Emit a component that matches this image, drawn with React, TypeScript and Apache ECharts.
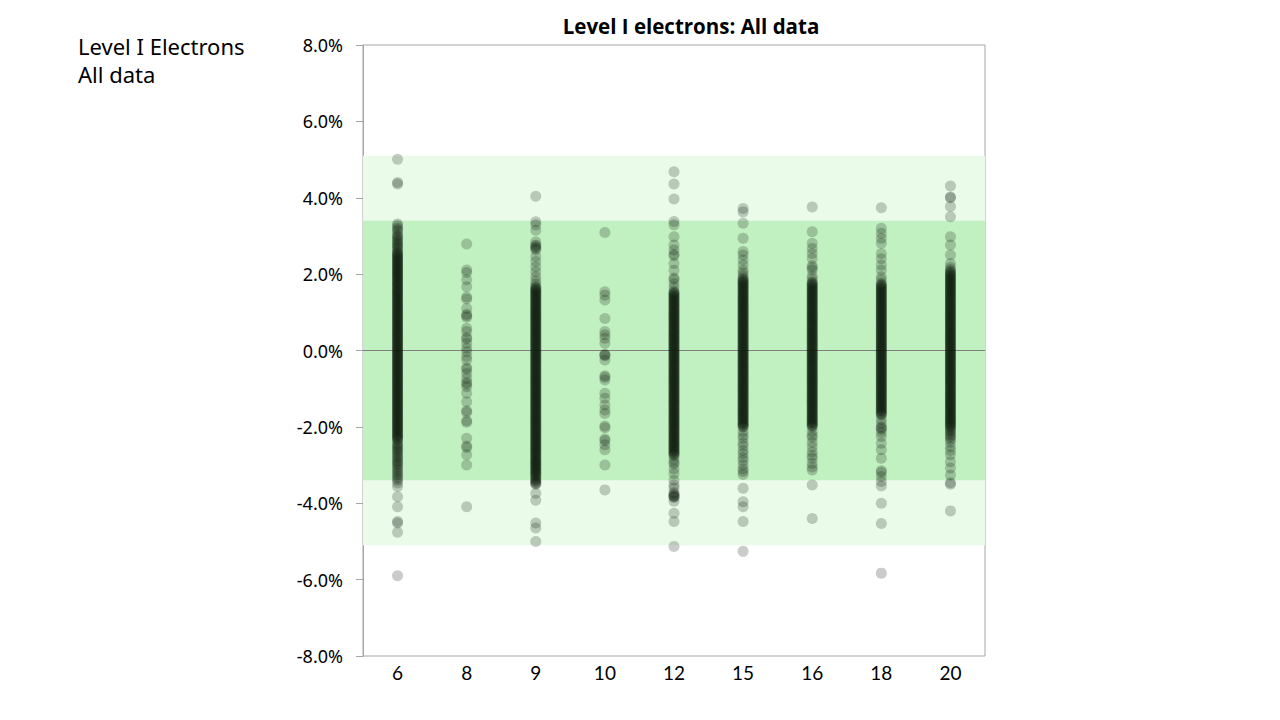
import React, { useEffect, useRef } from "react";
import * as echarts from "echarts";

const categories = ["6", "8", "9", "10", "12", "15", "16", "18", "20"];
const yTicks = { min: -8, max: 8, interval: 2 };
const outerBand = [-5.1, 5.1];
const innerBand = [-3.4, 3.4];

const c6 = [
  5.01, 4.36, 4.4, 3.31, 3.21, 3.12, 3.04, 2.97, 2.88, 2.8, 2.73, 2.66,
  3.0, 2.92, 2.85, 2.76, 2.69, 3.27, 3.16,
  2.6, 2.54, 2.49, 2.45, 2.39, 2.35, 2.29, 2.24, 2.2, 2.14, 2.1, 2.04, 2.0, 1.95, 1.91, 1.85, 1.8, 1.76, 1.7, 1.66,
  1.6, 1.55, 1.51, 1.45, 1.4, 1.36, 1.3, 1.25, 1.21, 1.15, 1.1, 1.06, 1.0, 0.95, 0.91, 0.85, 0.8, 0.76, 0.7, 0.65,
  0.61, 0.55, 0.5, 0.46, 0.4, 0.35, 0.31, 0.25, 0.2, 0.16, 0.1, 0.05, 0.01, -0.05, -0.1, -0.14, -0.2, -0.25, -0.29,
  -0.35, -0.4, -0.44, -0.5, -0.55, -0.59, -0.65, -0.7, -0.74, -0.8, -0.85, -0.89, -0.95, -1.0, -1.04, -1.1, -1.15,
  -1.19, -1.25, -1.3, -1.34, -1.4, -1.45, -1.49, -1.55, -1.6, -1.64, -1.7, -1.75, -1.79, -1.85, -1.9, -1.94, -2.0,
  -2.05, -2.09, -2.15, -2.2, -2.24, -2.3, -2.35, -2.42, -2.5, -2.58, -2.66, -2.75, -2.83, -2.92, -3.0, -3.1, -3.2,
  -3.3, -3.4, -3.47, -3.56, -3.83, -4.09, -4.48, -4.52, -4.76, -5.9,
  -2.46, -2.54, -2.62, -2.7, -2.79, -2.88, -2.96, -3.05, -3.15, -3.25, -3.35,
  2.57, 2.52, 2.47, 2.42, 2.37, 2.32, 2.27, 2.22, 2.17, 2.12, 2.07, 2.02, 1.97, 1.92, 1.87, 1.82, 1.77, 1.72,
  1.67, 1.62, 1.57, 1.52, 1.47, 1.42, 1.37, 1.32, 1.27, 1.22, 1.17, 1.12, 1.07, 1.02, 0.97, 0.92, 0.87, 0.82,
  0.77, 0.72, 0.67, 0.62, 0.57, 0.52, 0.47, 0.42, 0.37, 0.32, 0.27, 0.22, 0.17, 0.12, 0.07, 0.02, -0.03, -0.08,
  -0.13, -0.18, -0.23, -0.28, -0.33, -0.38, -0.43, -0.48, -0.53, -0.58, -0.63, -0.68, -0.73, -0.78, -0.83, -0.88,
  -0.93, -0.98, -1.03, -1.08, -1.13, -1.18, -1.23, -1.28, -1.33, -1.38, -1.43, -1.48, -1.53, -1.58, -1.63, -1.68,
  -1.73, -1.78, -1.83, -1.88, -1.93, -1.98, -2.03, -2.08, -2.13, -2.18, -2.23, -2.28, -2.33,
];
const c8 = [
  2.79, 2.11, 2.04, 1.85, 1.67, 1.4, 1.35, 1.1, 0.95, 0.91, 0.87, 0.58, 0.5, 0.34, 0.3, 0.19, 0.06, -0.03, -0.16,
  -0.25, -0.45, -0.49, -0.6, -0.73, -0.84, -0.88, -0.95, -1.12, -1.34, -1.58, -1.62, -1.84, -1.88, -2.3, -2.5,
  -2.54, -2.73, -3.0, -4.09,
];
const c9 = [
  4.04, 3.37, 3.29, 3.15, 2.85, 2.74, 2.7, 2.63, 2.46, 2.33, 2.19, 2.06, 1.93, 1.82, 1.74,
  1.67, 1.62, 1.57, 1.52, 1.47, 1.42, 1.37, 1.32, 1.27, 1.22, 1.17, 1.12, 1.07, 1.02, 0.97, 0.92, 0.87, 0.82,
  0.77, 0.72, 0.67, 0.62, 0.57, 0.52, 0.47, 0.42, 0.37, 0.32, 0.27, 0.22, 0.17, 0.12, 0.07, 0.02, -0.03, -0.08,
  -0.13, -0.18, -0.23, -0.28, -0.33, -0.38, -0.43, -0.48, -0.53, -0.58, -0.63, -0.68, -0.73, -0.78, -0.83, -0.88,
  -0.93, -0.98, -1.03, -1.08, -1.13, -1.18, -1.23, -1.28, -1.33, -1.38, -1.43, -1.48, -1.53, -1.58, -1.63, -1.68,
  -1.73, -1.78, -1.83, -1.88, -1.93, -1.98, -2.03, -2.08, -2.13, -2.18, -2.23, -2.28, -2.33, -2.38, -2.43, -2.48,
  -2.53, -2.58, -2.63, -2.68, -2.73, -2.78, -2.83, -2.88, -2.95, -3.02, -3.1, -3.18, -3.25, -3.3, -3.4, -3.46,
  -3.5, -3.74, -3.92, -4.52, -4.65, -5.0,
  -2.9, -2.98, -3.05, -3.12, -3.2, -3.28, -3.38, -3.48, 2.76, 2.68,
  1.65, 1.6, 1.55, 1.5, 1.45, 1.4, 1.35, 1.3, 1.25, 1.2, 1.15, 1.1, 1.05, 1.0, 0.95, 0.9, 0.85, 0.8, 0.75, 0.7,
  0.65, 0.6, 0.55, 0.5, 0.45, 0.4, 0.35, 0.3, 0.25, 0.2, 0.15, 0.1, 0.05, 0.0, -0.05, -0.1, -0.15, -0.2, -0.25,
  -0.3, -0.35, -0.4, -0.45, -0.5, -0.55, -0.6, -0.65, -0.7, -0.75, -0.8, -0.85, -0.9, -0.95, -1.0, -1.05, -1.1,
  -1.15, -1.2, -1.25, -1.3, -1.35, -1.4, -1.45, -1.5, -1.55, -1.6, -1.65, -1.7, -1.75, -1.8, -1.85, -1.9, -1.95,
  -2.0, -2.05, -2.1, -2.15, -2.2, -2.25, -2.3, -2.35, -2.4, -2.45, -2.5, -2.55, -2.6, -2.65, -2.7, -2.75, -2.8,
  -2.86, -2.92, -3.0, -3.08, -3.15, -3.22, -3.35, -3.44,
];
const c10 = [
  3.09, 1.54, 1.45, 1.32, 0.84, 0.5, 0.41, 0.32, 0.19, -0.1, -0.12, -0.14, -0.25, -0.66, -0.7, -0.77, -1.12,
  -1.25, -1.43, -1.56, -1.65, -1.98, -2.02, -2.32, -2.36, -2.47, -2.6, -3.0, -3.65,
];
const c12 = [
  4.68, 4.36, 3.97, 3.38, 3.29, 2.98, 2.76, 2.63, 2.52, 2.48, 2.28, 2.1, 1.9, 1.86, 1.75, 1.65,
  1.55, 1.5, 1.45, 1.4, 1.35, 1.3, 1.25, 1.2, 1.15, 1.1, 1.05, 1.0, 0.95, 0.9, 0.85, 0.8, 0.75, 0.7, 0.65, 0.6,
  0.55, 0.5, 0.45, 0.4, 0.35, 0.3, 0.25, 0.2, 0.15, 0.1, 0.05, 0.0, -0.05, -0.1, -0.15, -0.2, -0.25, -0.3, -0.35,
  -0.4, -0.45, -0.5, -0.55, -0.6, -0.65, -0.7, -0.75, -0.8, -0.85, -0.9, -0.95, -1.0, -1.05, -1.1, -1.15, -1.2,
  -1.25, -1.3, -1.35, -1.4, -1.45, -1.5, -1.55, -1.6, -1.65, -1.7, -1.75, -1.8, -1.85, -1.9, -1.95, -2.0, -2.05,
  -2.1, -2.15, -2.2, -2.25, -2.3, -2.35, -2.4, -2.45, -2.5, -2.55, -2.6, -2.65, -2.7, -2.75,
  -2.85, -2.93, -2.97, -3.1, -3.22, -3.4, -3.52, -3.6, -3.72, -3.76, -3.81, -3.85, -3.95, -4.26, -4.48, -5.13,
  1.52, 1.47, 1.42, 1.37, 1.32, 1.27, 1.22, 1.17, 1.12, 1.07, 1.02, 0.97, 0.92, 0.87, 0.82, 0.77, 0.72, 0.67,
  0.62, 0.57, 0.52, 0.47, 0.42, 0.37, 0.32, 0.27, 0.22, 0.17, 0.12, 0.07, 0.02, -0.03, -0.08, -0.13, -0.18, -0.23,
  -0.28, -0.33, -0.38, -0.43, -0.48, -0.53, -0.58, -0.63, -0.68, -0.73, -0.78, -0.83, -0.88, -0.93, -0.98, -1.03,
  -1.08, -1.13, -1.18, -1.23, -1.28, -1.33, -1.38, -1.43, -1.48, -1.53, -1.58, -1.63, -1.68, -1.73, -1.78, -1.83,
  -1.88, -1.93, -1.98, -2.03, -2.08, -2.13, -2.18, -2.23, -2.28, -2.33, -2.38, -2.43, -2.48, -2.53, -2.58, -2.63,
  -2.68, -2.73, -3.8, -3.83,
];
const c15 = [
  3.72, 3.63, 3.33, 2.94, 2.59, 2.5, 2.37, 2.24, 2.1, 2.03, 1.96,
  1.89, 1.84, 1.79, 1.74, 1.69, 1.64, 1.59, 1.54, 1.49, 1.44, 1.39, 1.34, 1.29, 1.24, 1.19, 1.14, 1.09, 1.04,
  0.99, 0.94, 0.89, 0.84, 0.79, 0.74, 0.69, 0.64, 0.59, 0.54, 0.49, 0.44, 0.39, 0.34, 0.29, 0.24, 0.19, 0.14,
  0.09, 0.04, -0.01, -0.06, -0.11, -0.16, -0.21, -0.26, -0.31, -0.36, -0.41, -0.46, -0.51, -0.56, -0.61, -0.66,
  -0.71, -0.76, -0.81, -0.86, -0.91, -0.96, -1.01, -1.06, -1.11, -1.16, -1.21, -1.26, -1.31, -1.36, -1.41, -1.46,
  -1.51, -1.56, -1.61, -1.66, -1.71, -1.76, -1.81, -1.86, -1.91, -1.96, -2.0,
  -2.12, -2.22, -2.3, -2.42, -2.5, -2.62, -2.7, -2.8, -2.88, -3.0, -3.1, -3.17, -3.25, -3.61, -3.96, -4.09,
  -4.48, -5.26,
  1.86, 1.81, 1.76, 1.71, 1.66, 1.61, 1.56, 1.51, 1.46, 1.41, 1.36, 1.31, 1.26, 1.21, 1.16, 1.11, 1.06, 1.01,
  0.96, 0.91, 0.86, 0.81, 0.76, 0.71, 0.66, 0.61, 0.56, 0.51, 0.46, 0.41, 0.36, 0.31, 0.26, 0.21, 0.16, 0.11,
  0.06, 0.01, -0.04, -0.09, -0.14, -0.19, -0.24, -0.29, -0.34, -0.39, -0.44, -0.49, -0.54, -0.59, -0.64, -0.69,
  -0.74, -0.79, -0.84, -0.89, -0.94, -0.99, -1.04, -1.09, -1.14, -1.19, -1.24, -1.29, -1.34, -1.39, -1.44, -1.49,
  -1.54, -1.59, -1.64, -1.69, -1.74, -1.79, -1.84, -1.89, -1.94, -1.99,
];
const c16 = [
  3.76, 3.11, 2.81, 2.67, 2.54, 2.41, 2.22, 2.17, 2.11, 1.95, 1.88,
  1.8, 1.75, 1.7, 1.65, 1.6, 1.55, 1.5, 1.45, 1.4, 1.35, 1.3, 1.25, 1.2, 1.15, 1.1, 1.05, 1.0, 0.95, 0.9, 0.85,
  0.8, 0.75, 0.7, 0.65, 0.6, 0.55, 0.5, 0.45, 0.4, 0.35, 0.3, 0.25, 0.2, 0.15, 0.1, 0.05, 0.0, -0.05, -0.1,
  -0.15, -0.2, -0.25, -0.3, -0.35, -0.4, -0.45, -0.5, -0.55, -0.6, -0.65, -0.7, -0.75, -0.8, -0.85, -0.9, -0.95,
  -1.0, -1.05, -1.1, -1.15, -1.2, -1.25, -1.3, -1.35, -1.4, -1.45, -1.5, -1.55, -1.6, -1.65, -1.7, -1.75, -1.8,
  -1.85, -1.9, -1.95, -2.0,
  -2.12, -2.22, -2.27, -2.4, -2.52, -2.65, -2.75, -2.82, -2.95, -3.05, -3.13, -3.52, -4.4,
  1.77, 1.72, 1.67, 1.62, 1.57, 1.52, 1.47, 1.42, 1.37, 1.32, 1.27, 1.22, 1.17, 1.12, 1.07, 1.02, 0.97, 0.92,
  0.87, 0.82, 0.77, 0.72, 0.67, 0.62, 0.57, 0.52, 0.47, 0.42, 0.37, 0.32, 0.27, 0.22, 0.17, 0.12, 0.07, 0.02,
  -0.03, -0.08, -0.13, -0.18, -0.23, -0.28, -0.33, -0.38, -0.43, -0.48, -0.53, -0.58, -0.63, -0.68, -0.73, -0.78,
  -0.83, -0.88, -0.93, -0.98, -1.03, -1.08, -1.13, -1.18, -1.23, -1.28, -1.33, -1.38, -1.43, -1.48, -1.53, -1.58,
  -1.63, -1.68, -1.73, -1.78, -1.83, -1.88, -1.93, -1.98,
];
const c18 = [
  3.74, 3.2, 3.07, 2.94, 2.81, 2.54, 2.4, 2.24, 2.11, 1.93, 1.85,
  1.76, 1.71, 1.66, 1.61, 1.56, 1.51, 1.46, 1.41, 1.36, 1.31, 1.26, 1.21, 1.16, 1.11, 1.06, 1.01, 0.96, 0.91,
  0.86, 0.81, 0.76, 0.71, 0.66, 0.61, 0.56, 0.51, 0.46, 0.41, 0.36, 0.31, 0.26, 0.21, 0.16, 0.11, 0.06, 0.01,
  -0.04, -0.09, -0.14, -0.19, -0.24, -0.29, -0.34, -0.39, -0.44, -0.49, -0.54, -0.59, -0.64, -0.69, -0.74, -0.79,
  -0.84, -0.89, -0.94, -0.99, -1.04, -1.09, -1.14, -1.19, -1.24, -1.29, -1.34, -1.39, -1.44, -1.49, -1.54, -1.59,
  -1.64, -1.69,
  -1.8, -1.9, -2.0, -2.06, -2.15, -2.25, -2.43, -2.6, -2.82, -3.15, -3.19, -3.3, -3.43, -3.55, -4.0, -4.53, -5.83,
  1.73, 1.68, 1.63, 1.58, 1.53, 1.48, 1.43, 1.38, 1.33, 1.28, 1.23, 1.18, 1.13, 1.08, 1.03, 0.98, 0.93, 0.88,
  0.83, 0.78, 0.73, 0.68, 0.63, 0.58, 0.53, 0.48, 0.43, 0.38, 0.33, 0.28, 0.23, 0.18, 0.13, 0.08, 0.03, -0.02,
  -0.07, -0.12, -0.17, -0.22, -0.27, -0.32, -0.37, -0.42, -0.47, -0.52, -0.57, -0.62, -0.67, -0.72, -0.77, -0.82,
  -0.87, -0.92, -0.97, -1.02, -1.07, -1.12, -1.17, -1.22, -1.27, -1.32, -1.37, -1.42, -1.47, -1.52, -1.57, -1.62,
  -1.67, -2.03,
];
const c20 = [
  4.31, 4.0, 4.02, 3.77, 3.5, 2.98, 2.76, 2.5, 2.28, 2.18, 2.12, 2.05,
  2.0, 1.95, 1.9, 1.85, 1.8, 1.75, 1.7, 1.65, 1.6, 1.55, 1.5, 1.45, 1.4, 1.35, 1.3, 1.25, 1.2, 1.15, 1.1, 1.05,
  1.0, 0.95, 0.9, 0.85, 0.8, 0.75, 0.7, 0.65, 0.6, 0.55, 0.5, 0.45, 0.4, 0.35, 0.3, 0.25, 0.2, 0.15, 0.1, 0.05,
  0.0, -0.05, -0.1, -0.15, -0.2, -0.25, -0.3, -0.35, -0.4, -0.45, -0.5, -0.55, -0.6, -0.65, -0.7, -0.75, -0.8,
  -0.85, -0.9, -0.95, -1.0, -1.05, -1.1, -1.15, -1.2, -1.25, -1.3, -1.35, -1.4, -1.45, -1.5, -1.55, -1.6, -1.65,
  -1.7, -1.75, -1.8, -1.85, -1.9, -1.95, -2.0,
  -2.1, -2.2, -2.28, -2.4, -2.52, -2.62, -2.73, -2.91, -3.08, -3.26, -3.46, -3.5, -4.2,
  1.92, 1.87, 1.82, 1.77, 1.72, 1.67, 1.62, 1.57, 1.52, 1.47, 1.42, 1.37, 1.32, 1.27, 1.22, 1.17, 1.12, 1.07,
  1.02, 0.97, 0.92, 0.87, 0.82, 0.77, 0.72, 0.67, 0.62, 0.57, 0.52, 0.47, 0.42, 0.37, 0.32, 0.27, 0.22, 0.17,
  0.12, 0.07, 0.02, -0.03, -0.08, -0.13, -0.18, -0.23, -0.28, -0.33, -0.38, -0.43, -0.48, -0.53, -0.58, -0.63,
  -0.68, -0.73, -0.78, -0.83, -0.88, -0.93, -0.98, -1.03, -1.08, -1.13, -1.18, -1.23,
  -1.28, -1.33, -1.38, -1.43, -1.48, -1.53, -1.58, -1.63, -1.68, -1.73, -1.78, -1.83, -1.88, -1.93, -1.98,
  -2.03, -2.08, -2.15, -2.24, -2.33, 1.97, 2.02, 2.08,
];

const columns = [c6, c8, c9, c10, c12, c15, c16, c18, c20];

export default function App() {
  const ref = useRef<HTMLDivElement>(null);
  useEffect(() => {
    if (!ref.current) return;
    const chart = echarts.init(ref.current, null, { renderer: "svg" });
    const points: number[][] = [];
    columns.forEach((col, i) => col.forEach((v) => points.push([i, v])));
    chart.setOption({
      animation: false,
      backgroundColor: "#ffffff",
      grid: {
        left: 363,
        right: 295,
        top: 45,
        bottom: 64,
        show: true,
        borderColor: "#a6a6a6",
        borderWidth: 1,
        backgroundColor: "transparent",
      },
      graphic: [
        {
          type: "text",
          x: 691,
          y: 26,
          style: {
            text: "Level I electrons: All data",
            font: "bold 20.5px 'Open Sans'",
            fill: "#000",
            textAlign: "center",
            textVerticalAlign: "middle",
          },
        },
        {
          type: "text",
          x: 78,
          y: 32,
          style: {
            text: "Level I Electrons\nAll data",
            font: "22px 'Noto Sans'",
            lineHeight: 28,
            fill: "#000",
            textAlign: "left",
            textVerticalAlign: "top",
          },
        },
      ],
      xAxis: {
        type: "category",
        data: categories,
        boundaryGap: true,
        axisLine: { show: true, lineStyle: { color: "#a6a6a6", width: 1 } },
        axisTick: { show: false },
        axisLabel: { color: "#000", fontSize: 19, fontFamily: "Lato", margin: 7 },
        splitLine: { show: false },
      },
      yAxis: {
        type: "value",
        min: yTicks.min,
        max: yTicks.max,
        interval: yTicks.interval,
        axisLine: { show: true, lineStyle: { color: "#a6a6a6", width: 1 } },
        axisTick: { show: true, length: 7, lineStyle: { color: "#a6a6a6" } },
        axisLabel: {
          color: "#000",
          fontSize: 18,
          fontFamily: "'Noto Sans'",
          margin: 20,
          formatter: (v: number) => v.toFixed(1) + "%",
        },
        splitLine: { show: false },
      },
      series: [
        {
          type: "line",
          data: [],
          z: 1,
          silent: true,
          markArea: {
            silent: true,
            itemStyle: { color: "#eafbe9" },
            data: [[{ yAxis: outerBand[0] }, { yAxis: outerBand[1] }]],
          },
        },
        {
          type: "line",
          data: [],
          z: 2,
          silent: true,
          markArea: {
            silent: true,
            itemStyle: { color: "#c1f0c1" },
            data: [[{ yAxis: innerBand[0] }, { yAxis: innerBand[1] }]],
          },
          markLine: {
            silent: true,
            symbol: "none",
            label: { show: false },
            lineStyle: { color: "#7f7f7f", width: 1, type: "solid" },
            data: [{ yAxis: 0 }],
          },
        },
        {
          type: "scatter",
          z: 5,
          data: points,
          symbol: "circle",
          symbolSize: 11,
          itemStyle: { color: "rgba(15,25,15,0.28)" },
        },
      ],
    });
    return () => chart.dispose();
  }, []);
  return (
    <div
      ref={ref}
      style={{ position: "absolute", left: 0, top: 0, width: 1280, height: 720 }}
    />
  );
}
